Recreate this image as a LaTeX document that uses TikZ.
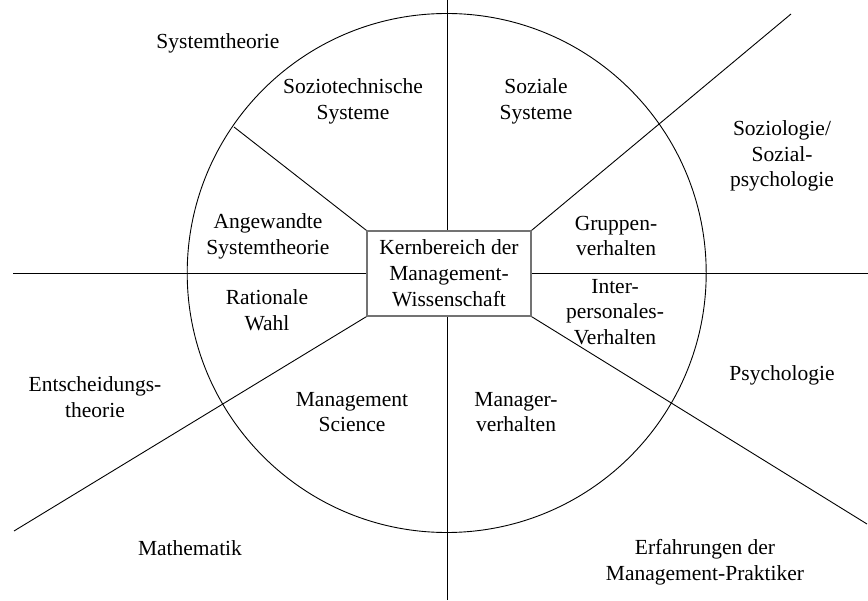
\documentclass[tikz,border=0pt]{standalone}
\usepackage{fontspec}
\setmainfont{Liberation Serif}
\begin{document}
\begin{tikzpicture}[x=1pt,y=-1pt,
  lbl/.style={align=center,inner sep=0pt,font=\fontsize{21.5}{25.8}\selectfont},
  ln/.style={draw=black,line width=0.9pt},
  corebox/.style={draw=black!55,line width=1.4pt,fill=white,minimum width=164pt,minimum height=85pt,inner sep=0pt,align=center,font=\fontsize{21.5}{25.8}\selectfont}]
\useasboundingbox (0,0) rectangle (868,601);
\draw[ln] (446.7,273) circle[radius=259.5pt];
\node[corebox] (box) at (449,273.5) {Kernbereich der\\Management-\\Wissenschaft};
\coordinate (top) at (447,0);
\coordinate (bot) at (447,600);
\coordinate (lft) at (13,273);
\coordinate (rgt) at (868,273);
\coordinate (tl) at (234,127);
\coordinate (tr) at (791,14);
\coordinate (bl) at (14,531);
\coordinate (br) at (867,524);
\draw[ln] (top) -- (top |- box.north);
\draw[ln] (bot) -- (bot |- box.south);
\draw[ln] (lft) -- (lft -| box.west);
\draw[ln] (rgt) -- (rgt -| box.east);
\draw[ln] (box.north west) -- (tl);
\draw[ln] (box.north east) -- (tr);
\draw[ln] (box.south west) -- (bl);
\draw[ln] (box.south east) -- (br);
\node[lbl] (sysT) at (218,43) {Systemtheorie};
\node[lbl] (sozT) at (353,101) {Soziotechnische\\Systeme};
\node[lbl] (sozS) at (536,101) {Soziale\\Systeme};
\node[lbl] (sozio) at (782,156) {Soziologie/\\Sozial-\\psychologie};
\node[lbl] (angew) at (268,236) {Angewandte\\Systemtheorie};
\node[lbl] (grupp) at (616,236) {Gruppen-\\verhalten};
\node[lbl] (ratw) at (267,310) {Rationale\\Wahl};
\node[lbl] (inter) at (615,312) {Inter-\\personales-\\Verhalten};
\node[lbl] (ents) at (95,397) {Entscheidungs-\\theorie};
\node[lbl] (psych) at (782,375) {Psychologie};
\node[lbl] (msci) at (352,412) {Management\\Science};
\node[lbl] (mverh) at (516,412) {Manager-\\verhalten};
\node[lbl] (math) at (190,548) {Mathematik};
\node[lbl] (erf) at (705,562) {Erfahrungen der\\Management-Praktiker};
\end{tikzpicture}
\end{document}
